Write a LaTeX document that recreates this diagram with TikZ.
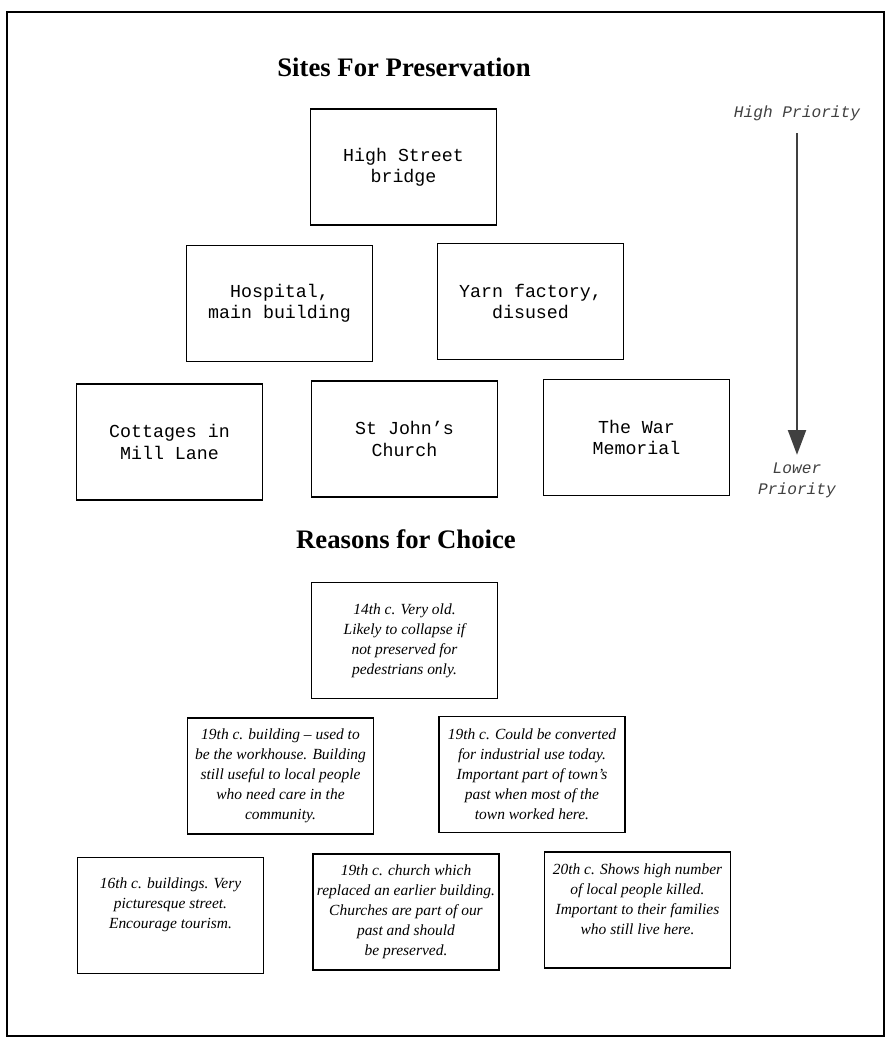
\documentclass[tikz,border=0pt]{standalone}
\usepackage{fontspec}
\setmainfont{Liberation Serif}
\setmonofont{Liberation Mono}
\usetikzlibrary{positioning,arrows.meta}

\tikzset{
  head/.style={font=\bfseries\fontsize{19}{22}\selectfont,anchor=base},
  site/.style={draw,line width=0.8pt,minimum width=4.65cm,minimum height=2.9cm,align=center,font=\ttfamily\fontsize{13}{15}\selectfont},
  reason/.style={draw,line width=0.8pt,minimum width=4.65cm,minimum height=2.9cm,inner sep=1.5pt,align=center,font=\itshape\fontsize{11}{14.2}\selectfont},
  reasontext/.style={inner sep=0pt,align=center,font=\itshape\fontsize{11}{14.2}\selectfont},
  prio/.style={align=center,text=black!75,font=\ttfamily\itshape\fontsize{11.5}{14.5}\selectfont},
  prioarrow/.style={line width=1.5pt,draw=black!75,-{Triangle[length=0.62cm,width=0.45cm,fill=black!75]}}
}

\begin{document}
\begin{tikzpicture}[x=0.025cm,y=-0.025cm]
  \useasboundingbox (0,0) rectangle (887,1040);
  \draw[line width=0.9pt] (7,12) rectangle (884,1036);

  % sites
  \node[head] (sites) at (404,76) {Sites For Preservation};
  \node[site] (bridge)   at (403.5,167) {High Street\\bridge};
  \node[site] (hospital) at (279.5,303.5) {Hospital,\\main building};
  \node[site] (yarn)     at (530.5,301.5) {Yarn factory,\\disused};
  \node[site] (cottages) at (169.5,442) {Cottages in\\Mill Lane};
  \node[site] (church)   at (404.5,439) {St John’s\\Church};
  \node[site] (memorial) at (636.5,437.5) {The War\\Memorial};

  % priority scale
  \node[prio,anchor=base] (high) at (797,117) {High Priority};
  \node[prio,anchor=north] (low) at (797,458) {Lower\\Priority};
  \draw[prioarrow,shorten <=0.2cm,shorten >=0.08cm] (high.south) -- (low.north);

  % reasons
  \node[head] (reasons) at (406,548) {Reasons for Choice};
  \node[reason] (r-bridge) at (404.5,640.5) {14th c. Very old.\\Likely to collapse if\\not preserved for\\pedestrians only.};
  \node[reason] (r-hospital) at (280.5,776) {19th c. building – used to\\be the workhouse. Building\\still useful to local people\\who need care in the\\community.};
  \node[reason] (r-yarn) at (532,774.5) {19th c. Could be converted\\for industrial use today.\\Important part of town’s\\past when most of the\\town worked here.};
  \node[reason] (r-cottages) at (170.5,915.5) {};
  \node[reason] (r-church)   at (406,912) {};
  \node[reason] (r-memorial) at (637.5,910) {};
  \node[reasontext,below=0.52cm of r-cottages.north] (t-cottages) {16th c. buildings. Very\\picturesque street.\\Encourage tourism.};
  \node[reasontext,below=0.28cm of r-church.north] (t-church) {19th c. church which\\replaced an earlier building.\\Churches are part of our\\past and should\\be preserved.};
  \node[reasontext,below=0.3cm of r-memorial.north] (t-memorial) {20th c. Shows high number\\of local people killed.\\Important to their families\\who still live here.};
\end{tikzpicture}
\end{document}
